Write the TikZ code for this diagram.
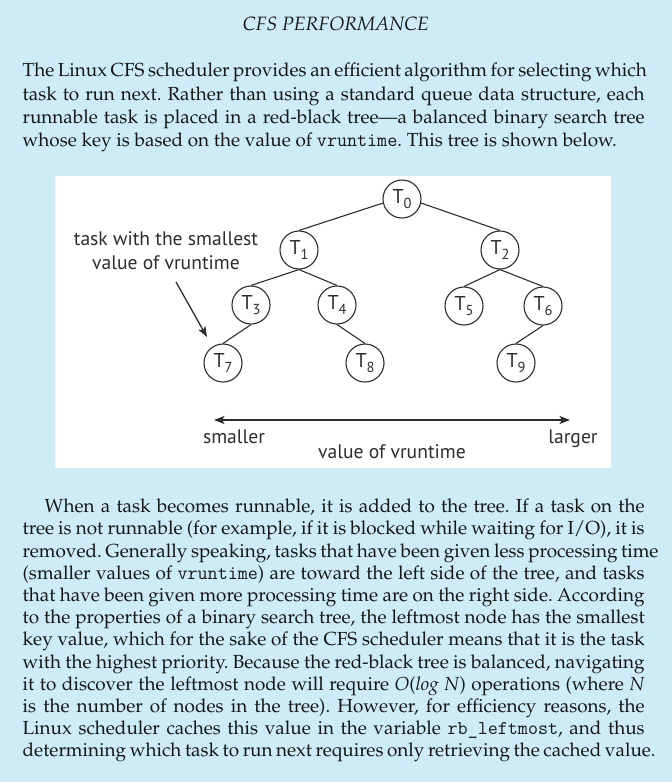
\documentclass[tikz,border=0pt]{standalone}
\usepackage[T1]{fontenc}
\usepackage{fontspec}
\usetikzlibrary{arrows.meta}
\newfontfamily\diag{PT Sans}
\newcommand\pal{\fontencoding{T1}\fontfamily{ppl}\selectfont}
\newcommand\vr[1]{{\fontencoding{TU}\fontfamily{lmtt}\fontsize{19.5}{22}\selectfont #1}}
\newcommand\justln[1]{\hbox to 622pt{#1}}
\newcommand\lastln[1]{\hbox to 622pt{#1\hfil}}
\newcommand\subd[1]{\raisebox{-0.28em}{\fontsize{14.5}{14.5}\selectfont #1}}
\definecolor{bg}{RGB}{205,236,248}
\definecolor{ink}{RGB}{22,22,22}
\definecolor{dg}{RGB}{45,45,45}
\tikzset{
  bodytxt/.style={anchor=base west, inner sep=0pt, text=ink, font=\pal\fontsize{18.9}{22}\selectfont\frenchspacing},
  tnode/.style={circle, draw=dg, line width=1.1pt, minimum size=38pt, inner sep=0pt, fill=white, text=dg, font=\diag\fontsize{20}{20}\selectfont},
  treeedge/.style={draw=dg, line width=1.1pt},
  lbl/.style={inner sep=0pt, text=dg, font=\diag\fontsize{19.6}{22}\selectfont},
  axisarrow/.style={draw=dg, line width=1.3pt, {Stealth[length=10.5pt,width=8pt,inset=2.5pt]}-{Stealth[length=10.5pt,width=8pt,inset=2.5pt]}},
  pointer/.style={draw=dg, line width=1.3pt, -{Stealth[length=10.5pt,width=8pt,inset=2.5pt]}}
}
\begin{document}
\begin{tikzpicture}[x=1pt,y=-1pt]
\fill[bg] (0,0) rectangle (672,782);
\useasboundingbox (0,0) rectangle (672,782);
% title
\node[anchor=base, inner sep=0pt, text=ink, font=\pal\fontsize{19.3}{22}\selectfont\itshape] (title) at (336,30) {CFS PERFORMANCE};
% paragraph 1
\node[bodytxt] (pa1) at (22.5,76.7) {\justln{The Linux CFS scheduler provides an efficient algorithm for selecting which}};
\node[bodytxt] (pa2) at (22.5,100) {\justln{task to run next. Rather than using a standard queue data structure, each}};
\node[bodytxt] (pa3) at (22.5,123.3) {\justln{runnable task is placed in a red-black tree---a balanced binary search tree}};
\node[bodytxt] (pa4) at (22.5,146.6) {\lastln{whose key is based on the value of \vr{vruntime}. This tree is shown below.}};
% white panel
\fill[white] (55,176) rectangle (611,468);
% tree
\node[tnode] (T0) at (402,199) {T\subd{0}};
\node[tnode] (T1) at (299,250) {T\subd{1}};
\node[tnode] (T2) at (500,250) {T\subd{2}};
\node[tnode] (T3) at (251,305) {T\subd{3}};
\node[tnode] (T4) at (337,305) {T\subd{4}};
\node[tnode] (T5) at (464,306) {T\subd{5}};
\node[tnode] (T6) at (543,306) {T\subd{6}};
\node[tnode] (T7) at (223,363) {T\subd{7}};
\node[tnode] (T8) at (365,363) {T\subd{8}};
\node[tnode] (T9) at (516,363) {T\subd{9}};
\draw[treeedge] (T0.192) -- (T1.north);
\draw[treeedge] (T0.-12) -- (T2.north);
\draw[treeedge] (T1.south) -- (T3.north);
\draw[treeedge] (T1.south) -- (T4.north);
\draw[treeedge] (T2.south) -- (T5.north);
\draw[treeedge] (T2.south) -- (T6.north);
\draw[treeedge] (T3.south) -- (T7.north);
\draw[treeedge] (T4.south) -- (T8.north);
\draw[treeedge] (T6.south) -- (T9.north);
% annotation
\node[lbl, anchor=base] (lab1) at (166,245) {task with the smallest};
\node[lbl, anchor=base] (lab2) at (166,269) {value of vruntime};
\coordinate (ps) at (176,282);
\coordinate (pe) at (207,337);
\draw[pointer] (ps) -- (pe);
% axis
\coordinate (axl) at (214,420);
\coordinate (axr) at (570,420);
\draw[axisarrow] (axl) -- (axr);
\node[lbl, anchor=base] (small) at (234,443) {smaller};
\node[lbl, anchor=base] (large) at (573,443) {larger};
\node[lbl, anchor=base] (axlab) at (392,458) {value of vruntime};
% paragraph 2
\node[bodytxt] (pb1) at (22.5,512.7) {\justln{\hspace{22pt}When a task becomes runnable, it is added to the tree. If a task on the}};
\node[bodytxt] (pb2) at (22.5,534.9) {\justln{tree is not runnable (for example, if it is blocked while waiting for I/O), it is}};
\node[bodytxt] (pb3) at (22.5,557.1) {\justln{removed. Generally speaking, tasks that have been given less processing time}};
\node[bodytxt] (pb4) at (22.5,579.3) {\justln{(smaller values of \vr{vruntime}) are toward the left side of the tree, and tasks}};
\node[bodytxt] (pb5) at (22.5,601.5) {\justln{that have been given more processing time are on the right side. According}};
\node[bodytxt] (pb6) at (22.5,623.7) {\justln{to the properties of a binary search tree, the leftmost node has the smallest}};
\node[bodytxt] (pb7) at (22.5,645.9) {\justln{key value, which for the sake of the CFS scheduler means that it is the task}};
\node[bodytxt] (pb8) at (22.5,668.1) {\justln{with the highest priority. Because the red-black tree is balanced, navigating}};
\node[bodytxt] (pb9) at (22.5,690.3) {\justln{it to discover the leftmost node will require \textit{O}(\textit{log N}) operations (where \textit{N}}};
\node[bodytxt] (pb10) at (22.5,712.5) {\justln{is the number of nodes in the tree). However, for efficiency reasons, the}};
\node[bodytxt] (pb11) at (22.5,734.7) {\justln{Linux scheduler caches this value in the variable \vr{rb\_leftmost}, and thus}};
\node[bodytxt] (pb12) at (22.5,756.9) {\justln{determining which task to run next requires only retrieving the cached value.}};
\end{tikzpicture}
\end{document}
